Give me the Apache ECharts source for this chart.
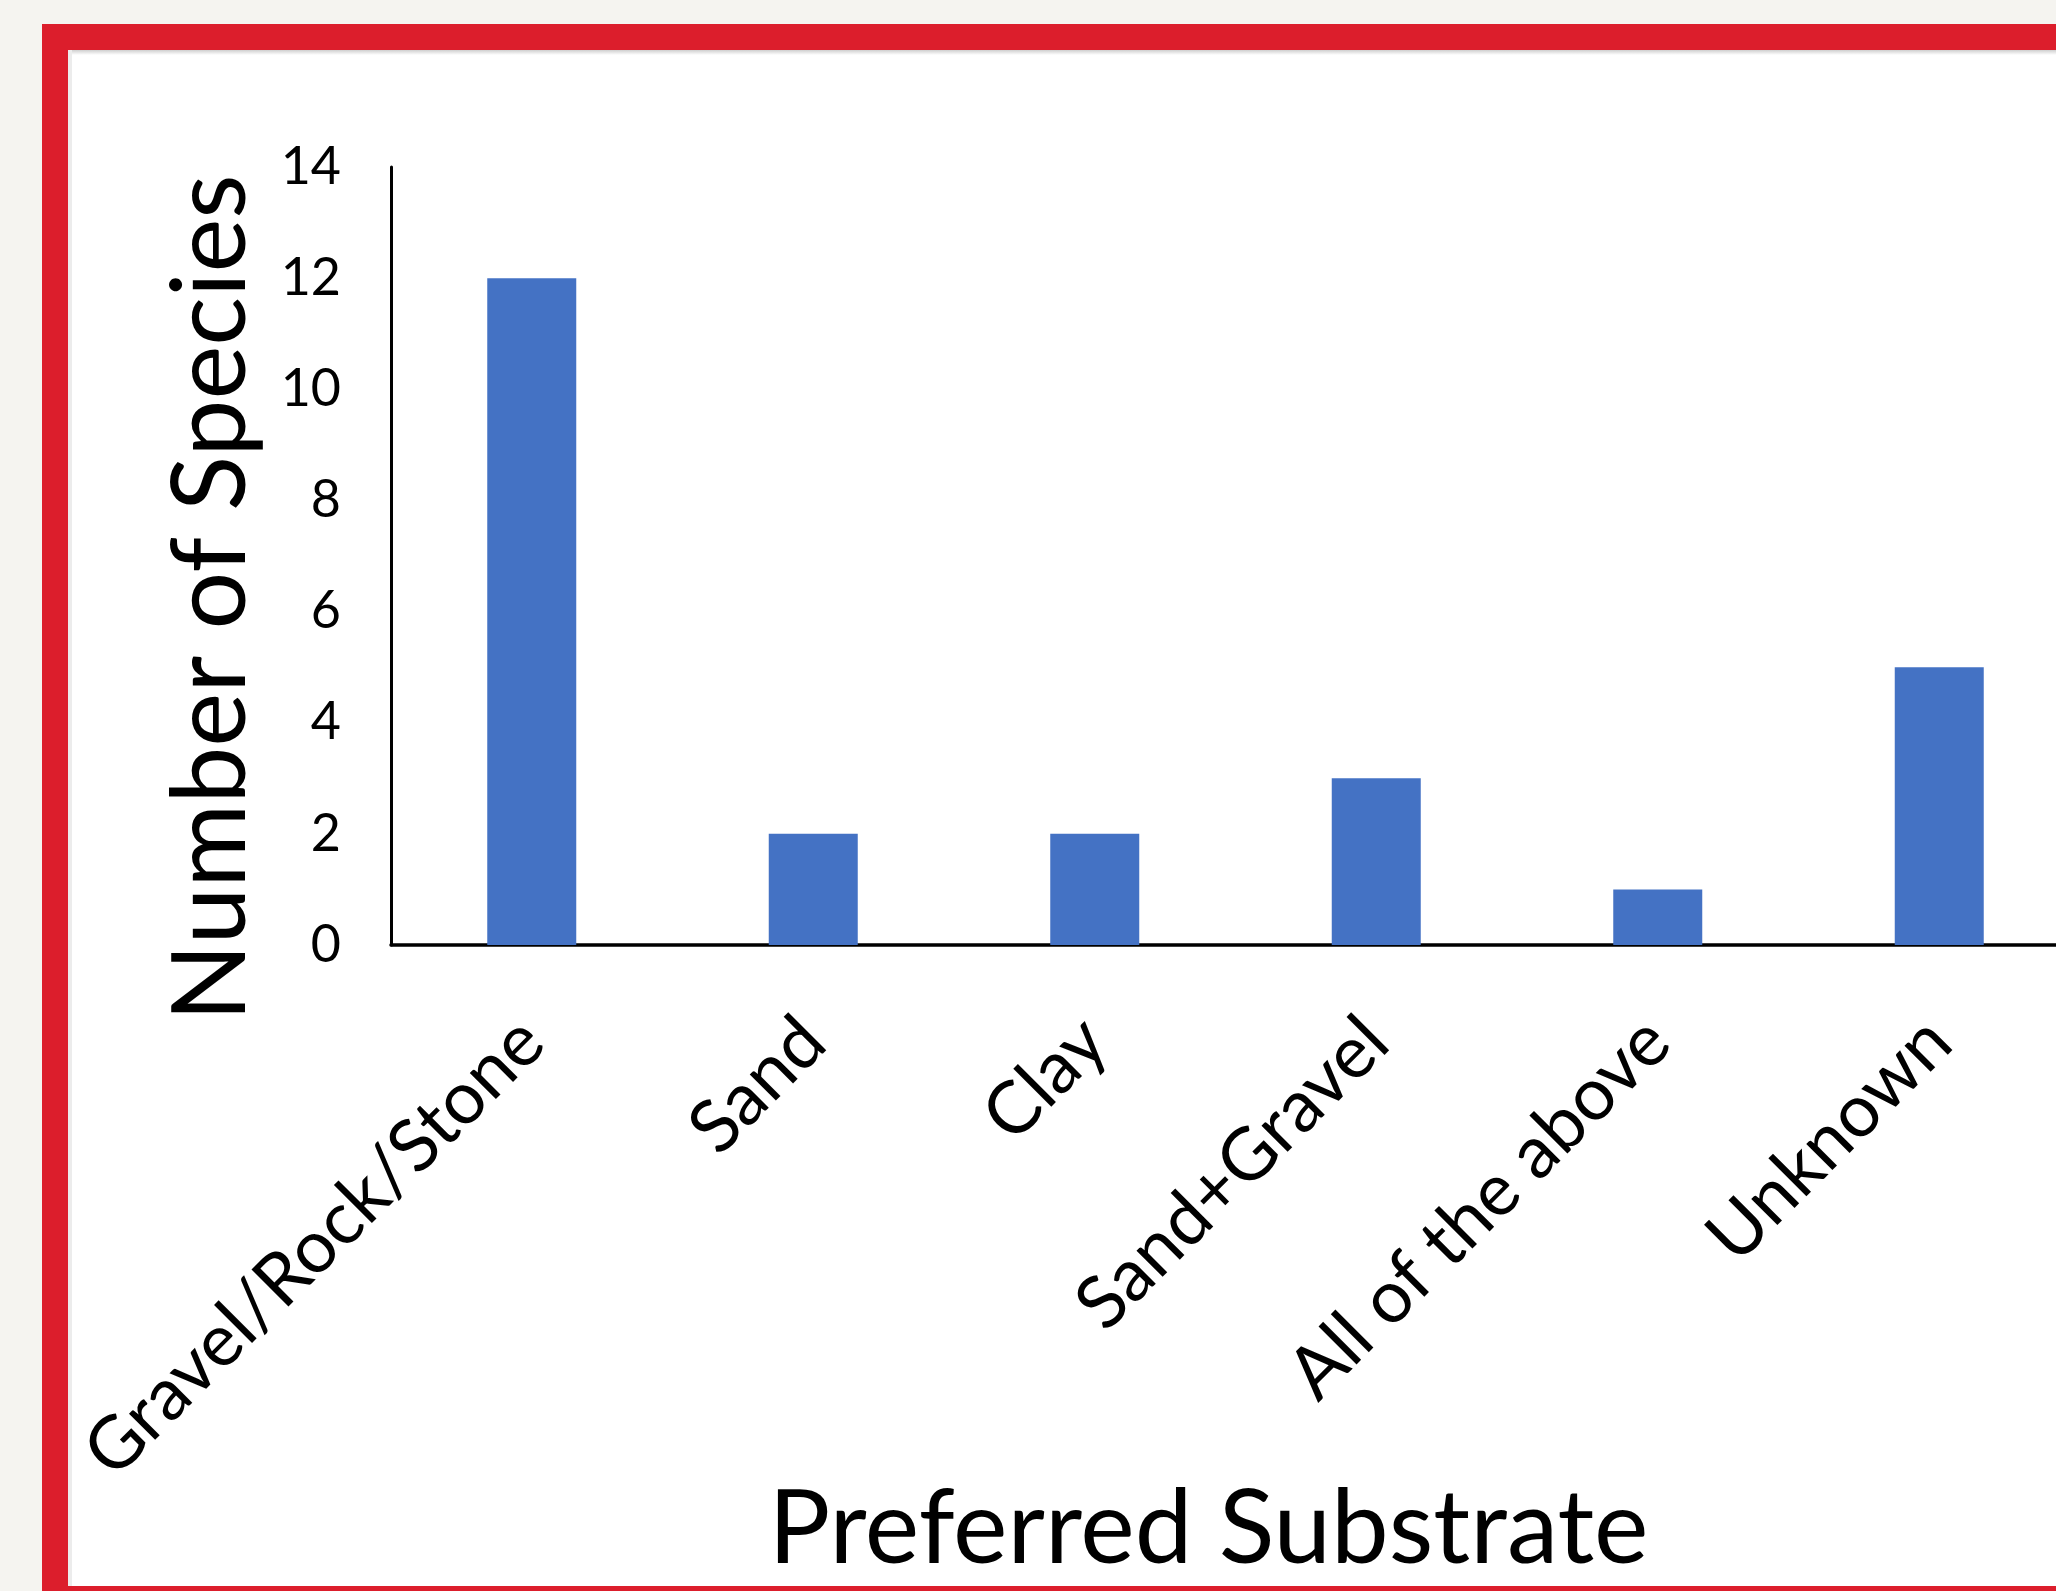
<!DOCTYPE html>
<html>
<head>
<meta charset="utf-8">
<script src="https://cdn.jsdelivr.net/npm/echarts@6/dist/echarts.min.js"></script>
<style>
  html, body { margin: 0; padding: 0; background: #F5F4F0; width: 2056px; height: 1591px; overflow: hidden; }
  #frame { position: absolute; left: 42px; top: 24px; width: 2100px; height: 1588px; box-sizing: border-box;
           border: 26px solid #DC1E2C; background: #ffffff; }
  #shadowTop { position: absolute; left: 68px; top: 50px; width: 2000px; height: 5px;
               background: linear-gradient(#cfcfcf, rgba(255,255,255,0)); }
  #shadowLeft { position: absolute; left: 68px; top: 50px; width: 4px; height: 1536px; background: #ececec; }
  #chart { position: absolute; left: 0; top: 0; width: 2120px; height: 1591px; }
</style>
</head>
<body>
<div id="frame"></div>
<div id="shadowTop"></div>
<div id="shadowLeft"></div>
<div id="chart"></div>
<script>
const categories = ['Gravel/Rock/Stone', 'Sand', 'Clay', 'Sand+Gravel', 'All of the above', 'Unknown'];
const speciesCounts = [12, 2, 2, 3, 1, 5];
const yTicks = [0, 2, 4, 6, 8, 10, 12, 14];
const xTitle = 'Preferred Substrate';
const yTitle = 'Number of Species';

const FONT = 'Lato';
const chart = echarts.init(document.getElementById('chart'), null, { renderer: 'canvas' });
chart.setOption({
  animation: false,
  grid: { left: 391, top: 167, width: 1689, height: 778, containLabel: false, outerBoundsMode: 'none' },
  xAxis: {
    type: 'category',
    data: categories,
    axisLine: { show: true, lineStyle: { color: '#000', width: 3.5 } },
    axisTick: { show: false },
    axisLabel: { rotate: 45, margin: 85, fontFamily: FONT, fontSize: 73, color: '#000', interval: 0 },
    name: xTitle,
    nameLocation: 'middle',
    nameGap: 533,
    nameMoveOverlap: false,
    nameTextStyle: { fontFamily: FONT, fontSize: 103, color: '#000', padding: [0, 54, 0, 0] }
  },
  yAxis: {
    type: 'value',
    min: 0, max: 14, interval: 2,
    axisLine: { show: true, lineStyle: { color: '#000', width: 3 } },
    axisTick: { show: false },
    splitLine: { show: false },
    axisLabel: { margin: 50, fontFamily: FONT, fontSize: 52, color: '#000',
                 formatter: v => yTicks.includes(v) ? String(v) : '' },
    name: yTitle,
    nameLocation: 'middle',
    nameRotate: 90,
    nameGap: 128,
    nameMoveOverlap: false,
    nameTextStyle: { fontFamily: FONT, fontSize: 102, color: '#000', padding: [0, 84, 0, 0] }
  },
  series: [{
    type: 'bar',
    data: speciesCounts,
    barWidth: 89,
    itemStyle: { color: '#4472C4' }
  }]
});
</script>
</body>
</html>
